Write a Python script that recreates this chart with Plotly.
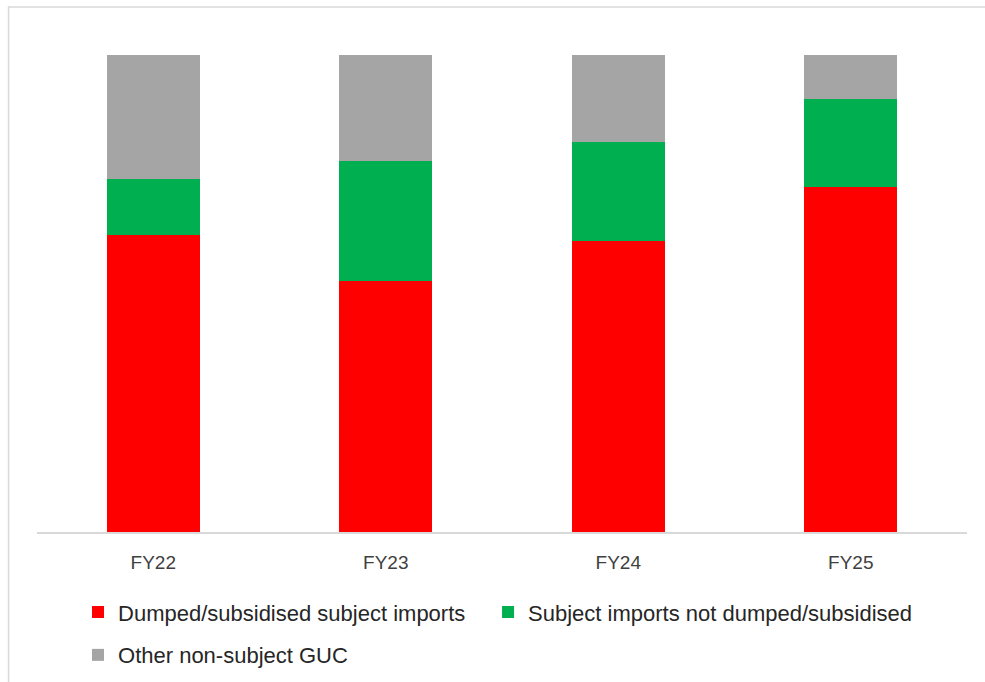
import plotly.graph_objects as go

categories = ["FY22", "FY23", "FY24", "FY25"]
dumped = [62.3, 52.6, 61.0, 72.3]
not_dumped = [11.7, 25.2, 20.8, 18.4]
other = [26.0, 22.2, 18.2, 9.3]

series_names = [
    "Dumped/subsidised subject imports",
    "Subject imports not dumped/subsidised",
    "Other non-subject GUC",
]
series_colors = ["#FF0000", "#00B050", "#A5A5A5"]

FONT = "Liberation Sans, Arial, sans-serif"

fig = go.Figure()
for vals, name, color, lg in zip([dumped, not_dumped, other], series_names, series_colors,
                                 ["legend", "legend3", "legend2"]):
    fig.add_trace(go.Bar(
        x=categories, y=vals, name=name,
        marker=dict(color=color, line=dict(width=0)),
        width=0.4, legend=lg,
    ))

leg_common = dict(
    orientation="h", traceorder="normal", xanchor="left", yanchor="middle",
    font=dict(size=22, color="#262626"), itemclick=False, bgcolor="rgba(0,0,0,0)",
)

fig.update_layout(
    barmode="stack",
    width=985, height=682,
    margin=dict(l=37, r=18, t=55, b=150, autoexpand=False),
    paper_bgcolor="white", plot_bgcolor="white",
    font=dict(family=FONT, size=19, color="#404040"),
    xaxis=dict(
        showline=True, linecolor="#D9D9D9", linewidth=1.5,
        showgrid=False, ticks="", ticklabelstandoff=12,
        tickfont=dict(size=19, color="#404040"),
    ),
    yaxis=dict(range=[0, 100], visible=False, showgrid=False),
    legend=dict(x=0.0441, y=-0.168, **leg_common),
    legend3=dict(x=0.485, y=-0.168, **leg_common),
    legend2=dict(x=0.0441, y=-0.258, **leg_common),
    showlegend=True,
    shapes=[dict(
        type="rect", xref="paper", yref="paper",
        x0=-0.0306, x1=1.05, y0=-0.4, y1=1.1006,
        line=dict(color="#D9D9D9", width=1.5), fillcolor="rgba(0,0,0,0)", layer="below",
    )],
)

fig.write_html("out.html")
